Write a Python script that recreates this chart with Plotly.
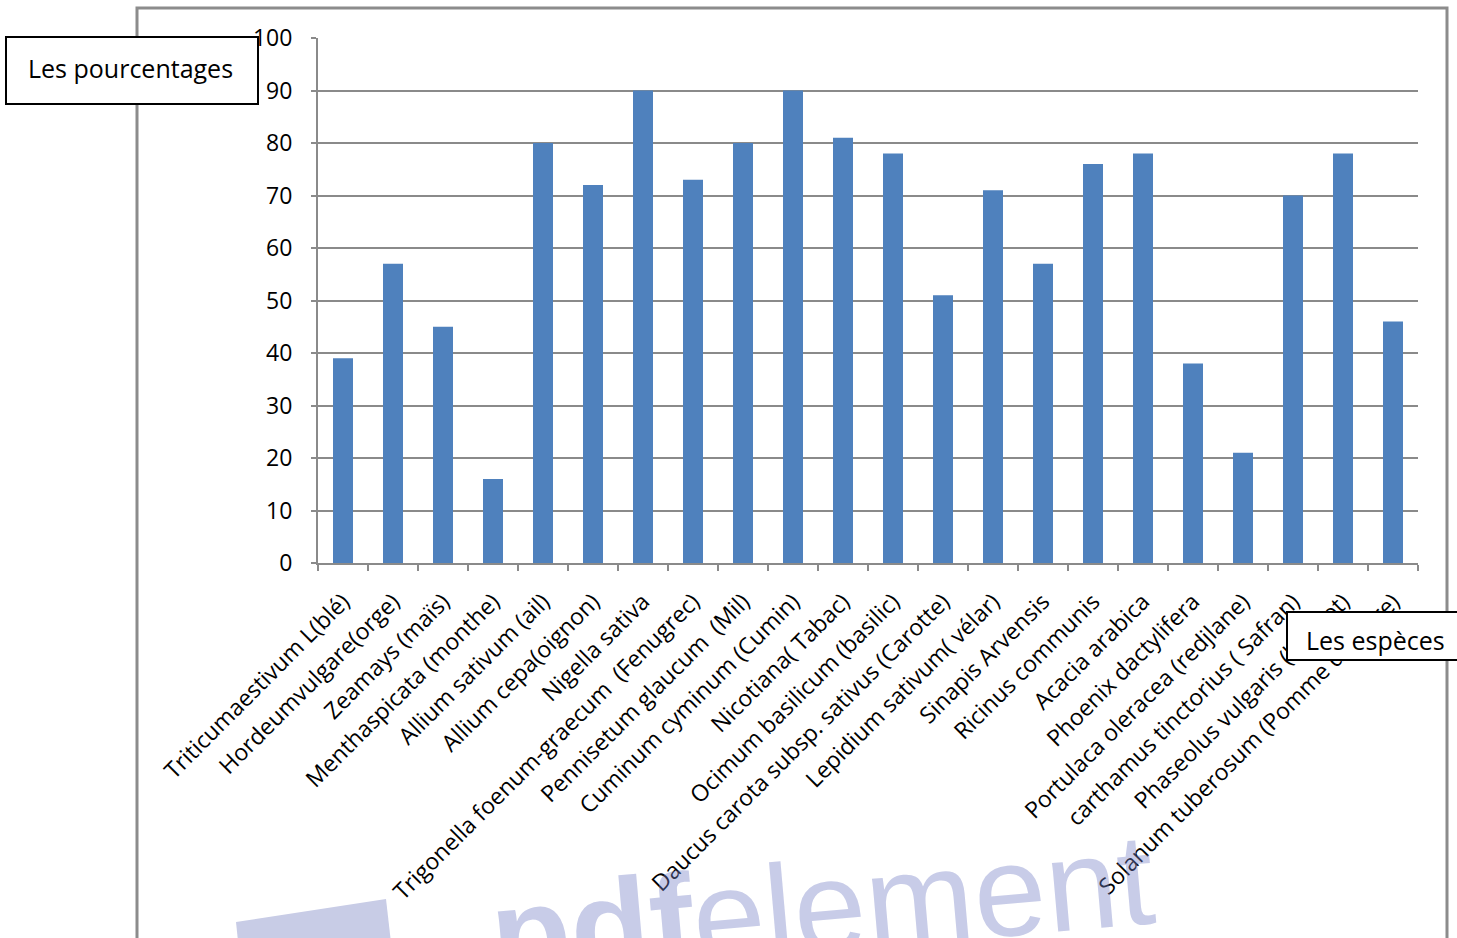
import plotly.graph_objects as go

# Species and their percentages
species = [
    "Triticumaestivum L(blé)",
    "Hordeumvulgare(orge)",
    "Zeamays (maïs)",
    "Menthaspicata (monthe)",
    "Allium sativum (ail)",
    "Allium cepa(oignon)",
    "Nigella sativa",
    "Trigonella foenum-graecum  (Fenugrec)",
    "Pennisetum glaucum  (Mil)",
    "Cuminum cyminum (Cumin)",
    "Nicotiana( Tabac)",
    "Ocimum basilicum (basilic)",
    "Daucus carota subsp. sativus (Carotte)",
    "Lepidium sativum( vélar)",
    "Sinapis Arvensis",
    "Ricinus communis",
    "Acacia arabica",
    "Phoenix dactylifera",
    "Portulaca oleracea (redjlane)",
    "carthamus tinctorius ( Safran)",
    "Phaseolus vulgaris (haricot)",
    "Solanum tuberosum (Pomme de terre)",
]
percentages = [39, 57, 45, 16, 80, 72, 90, 73, 80, 90, 81,
               78, 51, 71, 57, 76, 78, 38, 21, 70, 78, 46]

y_ticks = list(range(0, 101, 10))

W, H = 1457, 938
L, R, T, B = 318, 1418, 38, 563  # plot-area edges in pixels


def px(x):
    return (x - L) / (R - L)


def py(y):
    return (B - y) / (B - T)


GRID = "#8a8a8a"
FONT = "Open Sans"
MARK = "rgba(118,128,198,0.4)"  # translucent lavender, lets labels show through

fig = go.Figure(
    go.Bar(
        x=species,
        y=percentages,
        marker=dict(color="#4F81BD", line=dict(width=0)),
        width=0.4,
    )
)

shapes = [
    # outer chart frame (runs past the bottom edge of the page)
    dict(type="path", xref="paper", yref="paper",
         path=f"M {px(137)},{py(960)} L {px(137)},{py(8)} L {px(1447)},{py(8)} L {px(1447)},{py(960)}",
         line=dict(color="#8c8c8c", width=3), layer="below"),
    # watermark logo block
    dict(type="path", xref="paper", yref="paper",
         path=(f"M {px(236)},{py(922)} L {px(386)},{py(899)} "
               f"L {px(393)},{py(960)} L {px(240)},{py(960)} Z"),
         fillcolor="#c8cce6", line=dict(width=0), layer="below"),
    # text boxes
    dict(type="rect", xref="paper", yref="paper",
         x0=px(6), x1=px(258), y0=py(104), y1=py(37),
         fillcolor="white", line=dict(color="black", width=2), layer="above"),
    dict(type="rect", xref="paper", yref="paper",
         x0=px(1287), x1=px(1470), y0=py(660), y1=py(612),
         fillcolor="white", line=dict(color="black", width=2), layer="above"),
]

annotations = [
    dict(text="<b>pdf</b>element", xref="paper", yref="paper",
         x=px(822), y=py(907), showarrow=False, textangle=-5,
         font=dict(family="Liberation Sans", size=130, color=MARK),
         xanchor="center", yanchor="middle"),
    dict(text="Les pourcentages", xref="paper", yref="paper",
         x=px(130), y=py(68), showarrow=False,
         font=dict(family=FONT, size=25, color="black"),
         xanchor="center", yanchor="middle"),
    dict(text="Les espèces", xref="paper", yref="paper",
         x=px(1375), y=py(640), showarrow=False,
         font=dict(family=FONT, size=25, color="black"),
         xanchor="center", yanchor="middle"),
]

fig.update_layout(
    width=W, height=H,
    margin=dict(l=L, r=W - R, t=T, b=H - B, pad=0),
    paper_bgcolor="white",
    plot_bgcolor="rgba(0,0,0,0)",
    showlegend=False,
    bargap=0.6,
    shapes=shapes,
    annotations=annotations,
    font=dict(family=FONT, color="black"),
    xaxis=dict(
        type="category",
        tickangle=-45,
        tickson="boundaries",
        ticks="outside", ticklen=6, tickwidth=2, tickcolor=GRID,
        showline=True, linecolor=GRID, linewidth=2,
        showgrid=False,
        ticklabelstandoff=14,
        tickfont=dict(family=FONT, size=23, color="black"),
        range=[-0.5, len(species) - 0.5],
    ),
    yaxis=dict(
        range=[0, 100],
        tickvals=y_ticks,
        ticks="outside", ticklen=5, tickwidth=2, tickcolor=GRID,
        showline=True, linecolor=GRID, linewidth=2,
        showgrid=True, gridcolor=GRID, gridwidth=2,
        zeroline=False,
        ticklabelstandoff=14,
        tickfont=dict(family=FONT, size=23, color="black"),
    ),
)

fig.write_html("out.html")
